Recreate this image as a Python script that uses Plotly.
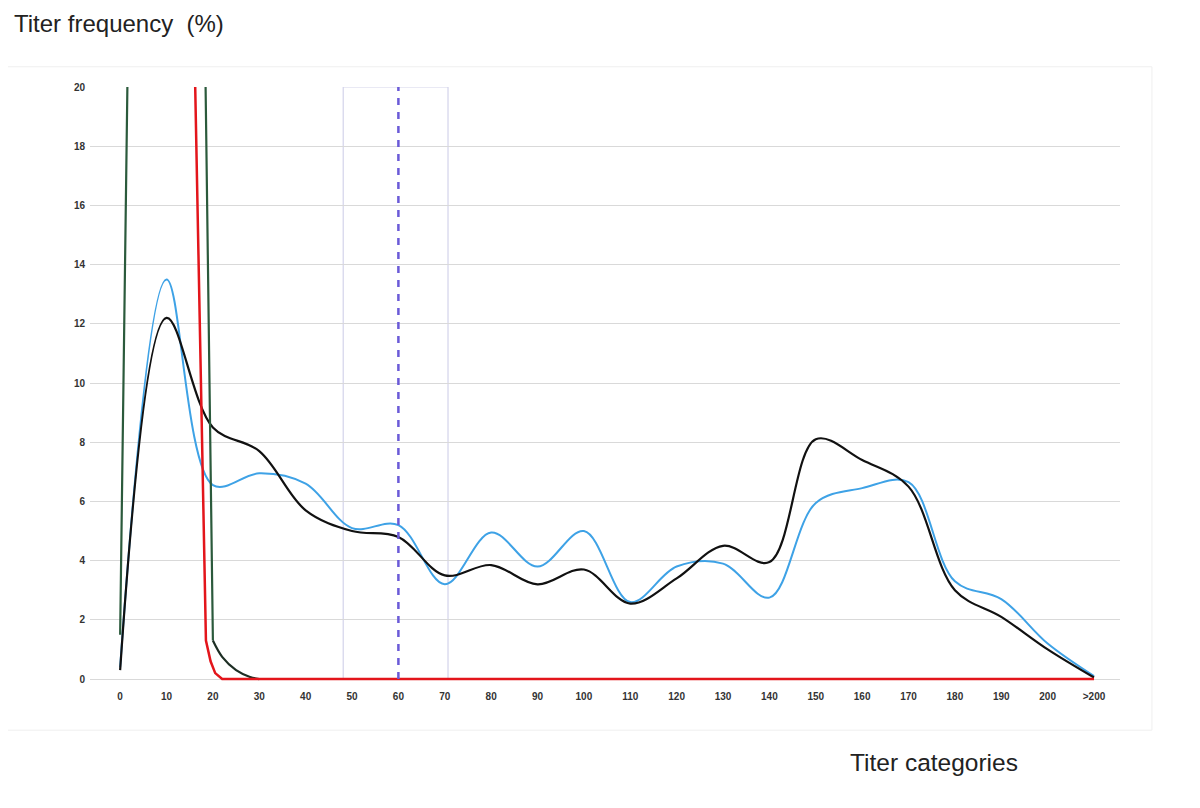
import plotly.graph_objects as go

# ---- data ----
titer_labels = ["0", "10", "20", "30", "40", "50", "60", "70", "80", "90", "100",
                "110", "120", "130", "140", "150", "160", "170", "180", "190", "200", ">200"]
titer_values = [0, 10, 20, 30, 40, 50, 60, 70, 80, 90, 100,
                110, 120, 130, 140, 150, 160, 170, 180, 190, 200, 210]  # ">200" placed at 210

blue_freq = [0.4, 13.5, 6.55, 6.95, 6.6, 5.1, 5.2, 3.2, 4.95, 3.8, 5.0,
             2.6, 3.8, 3.9, 2.75, 5.95, 6.45, 6.65, 3.3, 2.7, 1.2, 0.1]
black_freq = [0.3, 12.2, 8.5, 7.7, 5.7, 5.0, 4.8, 3.5, 3.85, 3.2, 3.7,
              2.55, 3.4, 4.5, 3.95, 8.1, 7.4, 6.5, 3.0, 2.1, 1.0, 0.05]

green_peak_x = [0, 10, 20]
green_peak_y = [1.5, 120, 1.3]
green_tail_x = [20, 22, 25, 28, 30]
green_tail_y = [1.3, 0.75, 0.3, 0.07, 0.0]

red_x = [10, 18.5, 19.5, 20.5, 22] + titer_values[3:]
red_y = [70, 1.3, 0.6, 0.2, 0.0] + [0.0] * len(titer_values[3:])

cutoff_titer = 60
window_titer = [48.1, 70.7]
y_max = 20

fig = go.Figure()

fig.add_trace(go.Scatter(x=titer_values, y=blue_freq, mode="lines",
                         line=dict(color="#3ea2e6", width=2, shape="spline", smoothing=1),
                         hoverinfo="skip"))
fig.add_trace(go.Scatter(x=titer_values, y=black_freq, mode="lines",
                         line=dict(color="#111111", width=2.2, shape="spline", smoothing=1),
                         hoverinfo="skip"))
fig.add_trace(go.Scatter(x=green_peak_x, y=green_peak_y, mode="lines",
                         line=dict(color="#2b5a3c", width=2.2),
                         hoverinfo="skip"))
fig.add_trace(go.Scatter(x=green_tail_x, y=green_tail_y, mode="lines",
                         line=dict(color="#1d2e24", width=2.2, shape="spline", smoothing=1),
                         hoverinfo="skip"))
fig.add_trace(go.Scatter(x=red_x, y=red_y, mode="lines",
                         line=dict(color="#e3151b", width=2.5),
                         hoverinfo="skip"))

# window box and cut-off dashed line
fig.add_shape(type="rect", xref="x", yref="y",
              x0=window_titer[0], x1=window_titer[1], y0=0, y1=y_max,
              line=dict(color="#d3d3ea", width=1.2), layer="below")
fig.add_shape(type="line", xref="x", yref="y",
              x0=cutoff_titer, x1=cutoff_titer, y0=0, y1=y_max,
              line=dict(color="#6a5ad8", width=2.5, dash="7px,7px"))

# faint chart-area border
fig.add_shape(type="rect", xref="paper", yref="paper",
              x0=-0.0874, x1=1.031, y0=-0.081, y1=1.034,
              line=dict(color="#efefef", width=1), layer="below")

fig.add_annotation(text="Titer frequency  (%)", xref="paper", yref="paper",
                   x=-0.0757, y=1.106, xanchor="left", yanchor="middle",
                   showarrow=False, font=dict(family="Liberation Sans", size=24, color="#222222"))
fig.add_annotation(text="Titer categories", xref="paper", yref="paper",
                   x=0.736, y=-0.136, xanchor="left", yanchor="middle",
                   showarrow=False, font=dict(family="Liberation Sans", size=24.5, color="#222222"))

fig.update_layout(
    width=1192, height=800,
    margin=dict(l=82, r=80, t=79, b=126),
    paper_bgcolor="white", plot_bgcolor="white",
    showlegend=False,
    font=dict(family="Liberation Sans", color="#333333"),
    xaxis=dict(range=[-6.5, 215.6], tickmode="array", tickvals=titer_values, ticktext=titer_labels,
               showgrid=False, zeroline=False, showline=False, ticks="",
               tickfont=dict(family="Liberation Sans", size=10, color="#333333", weight="bold"),
               ticklabelstandoff=7),
    yaxis=dict(range=[-0.1, y_max], tickmode="array", tickvals=list(range(0, 21, 2)),
               showgrid=True, gridcolor="#d9d9d9", gridwidth=1, zeroline=False,
               showline=False, ticks="",
               tickfont=dict(family="Liberation Sans", size=10, color="#333333", weight="bold"),
               ticklabelstandoff=4),
)

fig.write_html("out.html")
